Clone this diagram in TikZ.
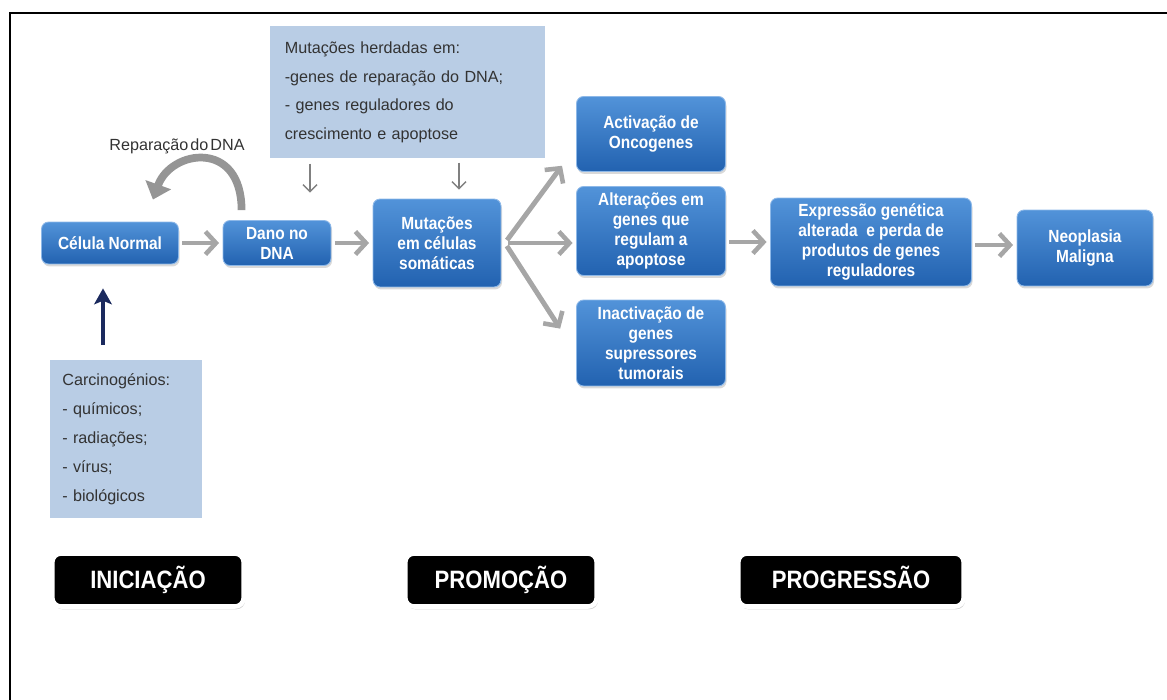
\documentclass[tikz,border=0pt]{standalone}
\usepackage{fontspec}
\setmainfont{Liberation Sans}
\newfontfamily\narrowfont{Liberation Sans}[FakeStretch=0.88]
\newfontfamily\notefont{Liberation Sans}[WordSpace=0.45]
\usetikzlibrary{arrows.meta,positioning,calc,shadows}
\definecolor{boxtop}{HTML}{5293D9}
\definecolor{boxbot}{HTML}{2262B0}
\definecolor{boxrim}{HTML}{8DB8E8}
\definecolor{notefill}{HTML}{B9CDE5}
\definecolor{notetext}{HTML}{333333}
\definecolor{flowgray}{HTML}{A6A6A6}
\definecolor{repairgray}{HTML}{959595}
\definecolor{navy}{HTML}{1B2A5E}

\begin{document}
\begin{tikzpicture}[x=0.02cm,y=-0.02cm,
    stage/.style={rounded corners=4pt,top color=boxtop,bottom color=boxbot,draw=boxrim,
      line width=0.5pt,text=white,align=center,inner sep=1pt,
      font=\narrowfont\bfseries\fontsize{10}{11.4}\selectfont,
      drop shadow={opacity=0.3,shadow xshift=0.6pt,shadow yshift=-1.4pt}},
    note/.style={fill=notefill,text=notetext,align=left,anchor=north west,
      font=\notefont\fontsize{9.2}{16.4}\selectfont},
    phase/.style={fill=black,draw=white,line width=2.6pt,rounded corners=5pt,text=white,
      minimum width=3.83cm,minimum height=1.06cm,text height=10pt,text depth=0pt,
      font=\narrowfont\bfseries\fontsize{14.3}{16}\selectfont,
      drop shadow={opacity=0.35,shadow xshift=0.8pt,shadow yshift=-1.6pt}},
    flow/.style={draw=flowgray,line width=2.8pt,shorten <=2pt,shorten >=2pt,
      -{Straight Barb[length=6pt,width=13pt,line width=2.6pt]}},
    hint/.style={draw=gray,line width=0.8pt,-{Straight Barb[length=4pt,width=8pt]}},
    repair/.style={draw=repairgray,line width=4.4pt,-{Triangle[length=9pt,width=15pt]}},
    cause/.style={draw=navy,line width=2.4pt,-{Stealth[length=9pt,width=10pt,inset=2pt]}}]
  \useasboundingbox (0,0) rectangle (1167,700);
  \draw[line width=1.7pt] (10,700) -- (10,13) -- (1167,13);

  % notes
  \node[note,minimum width=5.5cm,minimum height=2.64cm,text width=4.92cm,inner xsep=0.29cm]
    (herd) at (270,26) {Mutações herdadas em:\\-genes de reparação do DNA;\\- genes reguladores do\\crescimento e apoptose};
  \node[note,minimum width=3.04cm,minimum height=3.16cm,text width=2.56cm,inner xsep=0.24cm]
    (carc) at (50,360) {Carcinogénios:\\- químicos;\\- radiações;\\- vírus;\\- biológicos};

  % stages
  \node[stage,minimum width=2.74cm,minimum height=0.84cm] (celula) at (110,243) {Célula Normal};
  \node[stage,minimum width=2.16cm,minimum height=0.9cm] (dano) at (277,243) {Dano no\\DNA};
  \node[stage,minimum width=2.56cm,minimum height=1.76cm] (mut) at (437,243) {Mutações\\em células\\somáticas};
  \node[stage,minimum width=2.98cm,minimum height=1.5cm] (act) at (651,134) {Activação de\\Oncogenes};
  \node[stage,minimum width=2.98cm,minimum height=1.78cm] (alt) at (651,231) {Alterações em\\genes que\\regulam a\\apoptose};
  \node[stage,minimum width=2.98cm,minimum height=1.72cm] (inact) at (651,343) {Inactivação de\\genes\\supressores\\tumorais};
  \node[stage,minimum width=4.02cm,minimum height=1.76cm] (expr) at (871,242) {Expressão genética\\alterada~ e perda de\\produtos de genes\\reguladores};
  \node[stage,minimum width=2.72cm,minimum height=1.52cm] (neo) at (1085,248) {Neoplasia\\Maligna};

  \node[font=\notefont\fontsize{9.2}{11}\selectfont,text=notetext] (replabel) at (177,146) {Reparação do DNA};

  % phases
  \node[phase] (ini) at (148,580) {INICIAÇÃO};
  \node[phase] (pro) at (501,580) {PROMOÇÃO};
  \node[phase,minimum width=4.51cm] (prog) at (851,580) {PROGRESSÃO};

  % connectors
  \draw[flow] (celula) -- (dano);
  \draw[flow] (dano) -- (mut);
  \draw[flow] ([xshift=2pt]mut.east) -- ([shift={(-12,-9)}]act.south west);
  \draw[flow] ([xshift=2pt]mut.east) -- (mut.east -| alt.west);
  \draw[flow] ([xshift=2pt]mut.east) -- ([shift={(-14,32)}]inact.north west);
  \draw[flow] (alt.east |- expr.west) -- (expr.west);
  \draw[flow] ($(expr.east)+(0,3)$) -- ($(neo.west)+(0,-3)$);
  \draw[hint] ([shift={(40,5)}]herd.south west) -- ([shift={(40,34)}]herd.south west);
  \draw[hint] ([shift={(22,-36)}]mut.north) -- ([shift={(22,-9)}]mut.north);
  \draw[repair] ([shift={(19,-10)}]dano.north west) .. controls +(0,-71) and +(18,-50) .. ([shift={(-26,-22)}]celula.north east);
  \coordinate (carcsrc) at (103,345);
  \draw[cause] (carcsrc) -- ([shift={(-7,24)}]celula.south);
\end{tikzpicture}
\end{document}
